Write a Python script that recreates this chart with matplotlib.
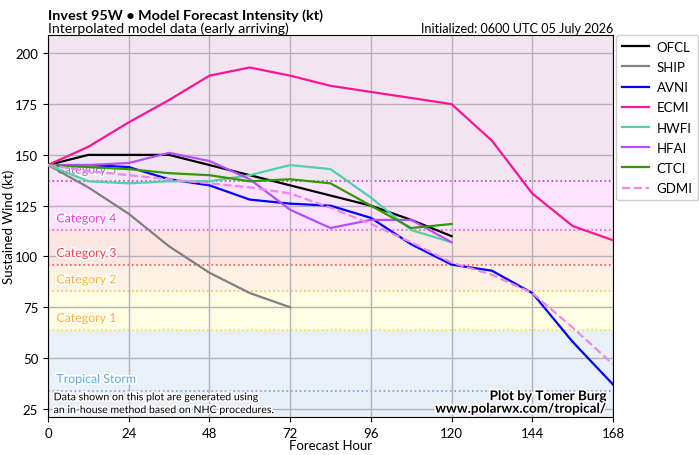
import matplotlib
matplotlib.use("Agg")
import matplotlib.pyplot as plt
import matplotlib.patheffects as pe

plt.rcParams['font.family'] = ['Lato', 'DejaVu Sans']

# ---- data ----
hours = [0, 12, 24, 36, 48, 60, 72, 84, 96, 108, 120, 132, 144, 156, 168]
models = ['OFCL', 'SHIP', 'AVNI', 'ECMI', 'HWFI', 'HFAI', 'CTCI', 'GDMI']
ofcl = [145, 150, 150, 150, 145, 140, 135, 130, 125, 118, 110]
ship = [145, 134, 121, 105, 92, 82, 75]
avni = [145, 145, 144, 138, 135, 128, 126, 125, 119, 106, 96, 93, 82, 58, 37]
ecmi = [145, 154, 166, 177, 189, 193, 189, 184, 181, 178, 175, 157, 131, 115, 108]
hwfi = [145, 137, 136, 137, 137, 140, 145, 143, 129, 113, 107]
hfai = [145, 145, 146, 151, 147, 138, 123, 114, 118, 118, 107]
ctci = [145, 144, 143, 141, 140, 137, 138, 136, 125, 114, 116]
gdmi = [145, 142, 140, 138, 136, 134, 131, 124, 116, 107, 97, 91, 82, 65, 47]
series = [ofcl, ship, avni, ecmi, hwfi, hfai, ctci, gdmi]

cat_names = ['Tropical Storm', 'Category 1', 'Category 2', 'Category 3', 'Category 4', 'Category 5']
cat_thresh = [34, 64, 83, 96, 113, 137]
xticks = [0, 24, 48, 72, 96, 120, 144, 168]
yticks = [25, 50, 75, 100, 125, 150, 175, 200]

# ---- styles ----
colors = ['#000000', '#808080', '#0000ff', '#ff1493', '#4fd1a5', '#b84dff', '#339900', '#ee88ee']
styles = ['-', '-', '-', '-', '-', '-', '-', '--']
band_colors = ['#e8eff8', '#e9f0f8', '#fefee2', '#fdf2e4', '#fce6e4', '#fde3fd', '#f3e4f2']
line_colors = ['#6aa8e0', '#f0e040', '#ffc040', '#ff5050', '#f050f0', '#c040d0']
text_colors = ['#5fa8e6', '#ffb030', '#ffb030', '#ff4040', '#ff30ff', '#b060c0']

ymin, ymax = 21, 209

fig = plt.figure(figsize=(6.99, 4.56), dpi=100)
ax = fig.add_axes([48/699, 1-418/456, (613-48)/699, (418-36)/456])
ax.set_xlim(0, 168)
ax.set_ylim(ymin, ymax)

bounds = [ymin] + cat_thresh + [ymax]
for i in range(len(bounds)-1):
    ax.axhspan(bounds[i], bounds[i+1], color=band_colors[i], zorder=0, lw=0)
for name, th, lc, tc in zip(cat_names, cat_thresh, line_colors, text_colors):
    ax.axhline(th, color=lc, ls=':', lw=1.2, zorder=1)
    ax.text(2.5, th + 5.5, name, color=tc, fontsize=8.9, va='center', ha='left', zorder=2,
            path_effects=[pe.withStroke(linewidth=2.5, foreground='white')])

ax.set_xticks(xticks)
ax.set_yticks(yticks)
ax.grid(True, color='#b8b0b8', lw=1, zorder=1)
ax.tick_params(labelsize=9.5)

for name, vals, c, s in zip(models, series, colors, styles):
    ax.plot(hours[:len(vals)], vals, color=c, ls=s, lw=1.6, label=name, zorder=5)

ax.set_xlabel('Forecast Hour', fontsize=9.5, labelpad=0)
ax.set_ylabel('Sustained Wind (kt)', fontsize=9.5)
ax.yaxis.set_label_coords(-0.058, 0.5)

leg = ax.legend(loc='upper left', bbox_to_anchor=(1.006, 1.0), fontsize=9.5,
                handlelength=2.0, handletextpad=0.6, framealpha=1, borderpad=0.45,
                labelspacing=0.62, borderaxespad=0.0)

ax.text(0, 1.042, 'Invest 95W \u2022 Model Forecast Intensity (kt)', transform=ax.transAxes,
        fontsize=10.4, fontweight='bold', ha='left', va='baseline')
ax.text(0, 1.008, 'Interpolated model data (early arriving)', transform=ax.transAxes,
        fontsize=10.2, ha='left', va='baseline')
ax.text(1, 1.008, 'Initialized: 0600 UTC 05 July 2026', transform=ax.transAxes,
        fontsize=9.1, ha='right', va='baseline')

ax.text(0.01, 0.005, 'Data shown on this plot are generated using\nan in-house method based on NHC procedures.',
        transform=ax.transAxes, fontsize=7.6, ha='left', va='bottom', zorder=6, linespacing=1.2,
        path_effects=[pe.withStroke(linewidth=2.5, foreground='white')])
ax.text(0.99, 0.006, 'Plot by Tomer Burg\nwww.polarwx.com/tropical/', transform=ax.transAxes,
        fontsize=9.7, fontweight='bold', ha='right', va='bottom', zorder=6, linespacing=1.05,
        path_effects=[pe.withStroke(linewidth=2.5, foreground='white')])

fig.savefig('out.png', dpi=100)
